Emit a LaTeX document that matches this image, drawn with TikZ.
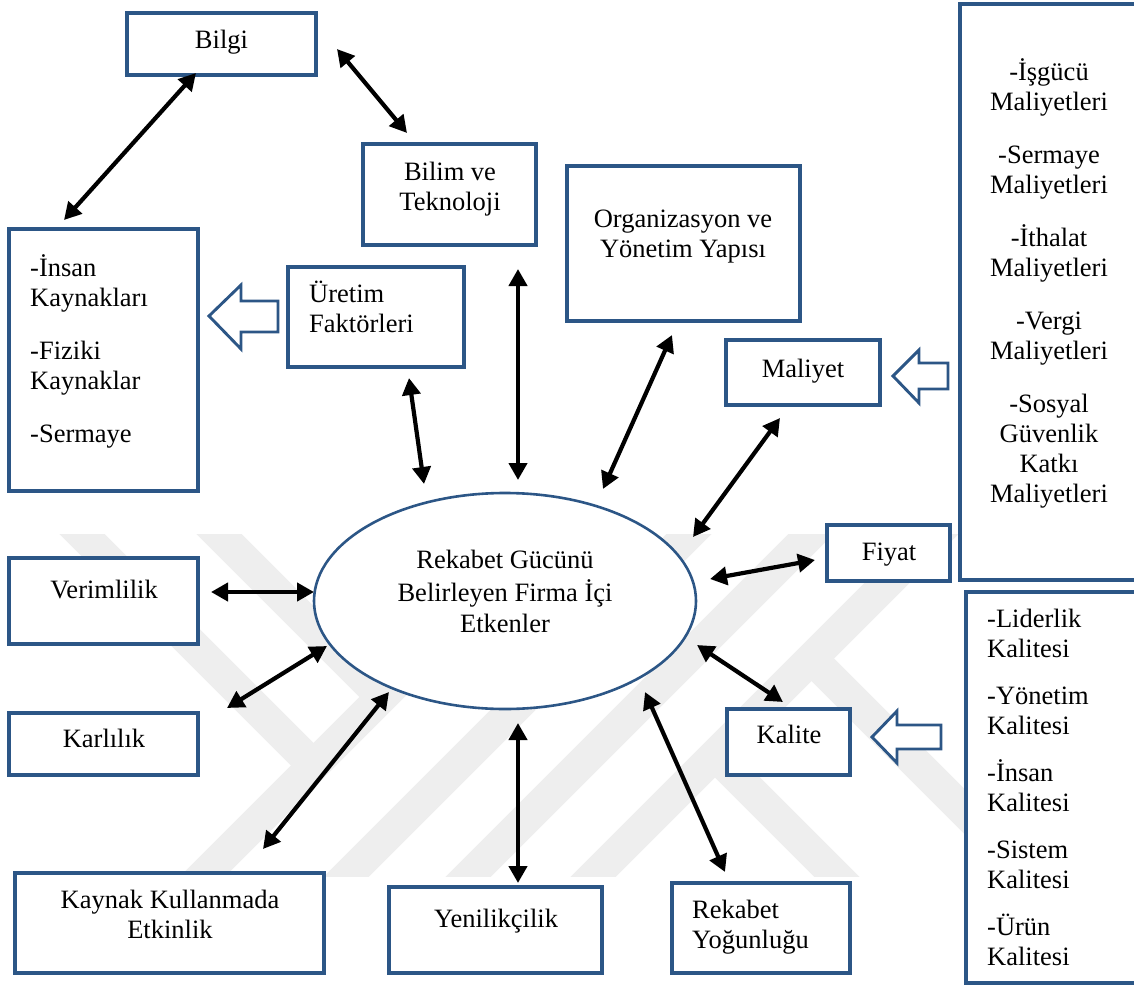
\documentclass[tikz,border=0pt]{standalone}
\usepackage{fontspec}
\setmainfont{Liberation Serif}
\usetikzlibrary{arrows.meta,shapes.geometric}
\definecolor{edgeblue}{RGB}{44,86,134}
\definecolor{wmgray}{RGB}{238,238,238}
\tikzset{
  box/.style={draw=edgeblue, line width=3.1pt, fill=white, rectangle, inner sep=0pt},
  txt/.style={font=\fontsize{26.5}{30}\selectfont, inner sep=0pt, align=center},
  ltxt/.style={font=\fontsize{26.5}{30}\selectfont, inner sep=0pt, align=left},
  link/.style={line width=4.2pt, {Triangle[length=17pt,width=18pt]}-{Triangle[length=17pt,width=18pt]}},
  hollow/.style={draw=edgeblue, line width=2.9pt, fill=white, line join=miter},
  band/.style={draw=wmgray, line width=32pt, line cap=butt, line join=miter},
}
\begin{document}
\begin{tikzpicture}[x=1pt, y=-1pt]
\useasboundingbox (0,0) rectangle (1134,987);

% faint background emblem: four rising stripes, two falling stripes meeting
% the outer left one and two falling stripes leaving the outer right one
\begin{scope}
  \clip (0,534) rectangle (1134,876);
  \draw[band] (150,929) -- (596,483);   % rising C
  \draw[band] (294,929) -- (740,483);   % rising D
  \draw[band] (416,929) -- (862,483);   % rising E
  \draw[band] (541,929) -- (987,483);   % rising F
  \draw[band] (31,483) -- (314,766);    % falling A, ends on C
  \draw[band] (168,483) -- (382,697);   % falling B, ends on C
  \draw[band] (811,658) -- (1082,929);  % falling G, leaves F
  \draw[band] (715,755) -- (889,929);   % falling H, leaves F
\end{scope}

% boxes
\node[box, minimum width=189pt, minimum height=62pt]  (bilgi)   at (221.5,44)   {};
\node[box, minimum width=173pt, minimum height=101pt] (bilim)   at (449.5,194.5) {};
\node[box, minimum width=233pt, minimum height=155pt] (org)     at (683.5,243.5) {};
\node[box, minimum width=180pt, minimum height=576pt] (costs)   at (1050,292)   {};
\node[box, minimum width=189pt, minimum height=262pt] (insan)   at (103.5,360)  {};
\node[box, minimum width=176pt, minimum height=100pt] (uretim)  at (376,317)    {};
\node[box, minimum width=154pt, minimum height=65pt]  (maliyet) at (803,372.5)  {};
\node[box, minimum width=123pt, minimum height=56pt]  (fiyat)   at (888.5,553)  {};
\node[box, minimum width=189pt, minimum height=86pt]  (verim)   at (103.5,601)  {};
\node[box, minimum width=189pt, minimum height=62pt]  (karl)    at (103.5,744)  {};
\node[box, minimum width=309pt, minimum height=100pt] (kaynak)  at (169.5,923)  {};
\node[box, minimum width=213pt, minimum height=86pt]  (yenilik) at (495.5,930)  {};
\node[box, minimum width=178pt, minimum height=90pt]  (rekabet) at (761,928)    {};
\node[box, minimum width=123pt, minimum height=66pt]  (kalite)  at (788.5,742)  {};
\node[box, minimum width=174pt, minimum height=391pt] (quality) at (1053,787.5) {};
\node[ellipse, draw=edgeblue, line width=2.6pt, fill=white, inner sep=0pt,
      minimum width=382pt, minimum height=216pt] (core) at (505,601) {};

% texts
\node[txt, anchor=base] (t-bilgi) at (221.5,49) {Bilgi};
\node[txt, anchor=north] (t-bilim) at (450,159) {\strut Bilim ve\\Teknoloji};
\node[txt, anchor=north] (t-org) at (683,206) {\strut Organizasyon ve\\Yönetim Yapısı};
\node[txt, anchor=north] (t-costs) at (1049,58)
  {\strut -İşgücü\\Maliyetleri\\[23pt]-Sermaye\\Maliyetleri\\[23pt]-İthalat\\Maliyetleri\\[23pt]-Vergi\\Maliyetleri\\[23pt]-Sosyal\\Güvenlik\\Katkı\\Maliyetleri};
\node[ltxt, anchor=north west] (t-insan) at (30,254)
  {\strut -İnsan\\Kaynakları\\[23pt]-Fiziki\\Kaynaklar\\[23pt]-Sermaye};
\node[ltxt, anchor=north west] (t-uretim) at (309,281) {\strut Üretim\\Faktörleri};
\node[txt, anchor=base] (t-maliyet) at (803,377) {Maliyet};
\node[txt, anchor=base] (t-fiyat) at (889,560) {Fiyat};
\node[txt, anchor=north] (t-core) at (505,547) {\strut Rekabet Gücünü\\[1pt]Belirleyen Firma İçi\\[1pt]Etkenler};
\node[txt, anchor=base] (t-verim) at (104,598) {Verimlilik};
\node[txt, anchor=base] (t-karl) at (104,747) {Karlılık};
\node[txt, anchor=north] (t-kaynak) at (170,887) {\strut Kaynak Kullanmada\\Etkinlik};
\node[txt, anchor=base] (t-yenilik) at (496,927) {Yenilikçilik};
\node[ltxt, anchor=north west] (t-rekabet) at (692,897) {\strut Rekabet\\Yoğunluğu};
\node[txt, anchor=base] (t-kalite) at (789,743) {Kalite};
\node[ltxt, anchor=north west] (t-quality) at (987,606)
  {\strut -Liderlik\\Kalitesi\\[17pt]-Yönetim\\Kalitesi\\[17pt]-İnsan\\Kalitesi\\[17pt]-Sistem\\Kalitesi\\[17pt]-Ürün\\Kalitesi};

% hollow arrows feeding the three boxes
\draw[hollow] (209,316) -- (241,285) -- (241,301) -- (278,301) -- (278,332) -- (241,332) -- (241,349) -- cycle;
\draw[hollow] (893,376) -- (919,350) -- (919,363) -- (948,363) -- (948,389) -- (919,389) -- (919,403) -- cycle;
\draw[hollow] (872,737) -- (897,711) -- (897,725) -- (941,725) -- (941,749) -- (897,749) -- (897,763) -- cycle;

% connector ends
\coordinate (bilgi-a) at (196,73);   \coordinate (insan-a) at (64,220);
\coordinate (bilgi-b) at (337,49);   \coordinate (bilim-a) at (407,133);
\coordinate (bilim-b) at (518,269);  \coordinate (core-1) at (518,480);
\coordinate (uretim-a) at (409,378); \coordinate (core-2) at (424,484);
\coordinate (org-a) at (672,335);    \coordinate (core-3) at (603,489);
\coordinate (maliyet-a) at (780,418);\coordinate (core-4) at (693,537);
\coordinate (fiyat-a) at (815,560);  \coordinate (core-5) at (710,579);
\coordinate (kalite-a) at (783,702); \coordinate (core-6) at (697,645);
\coordinate (rekabet-a) at (725,872);\coordinate (core-7) at (645,692);
\coordinate (yenilik-a) at (518,883);\coordinate (core-8) at (518,723);
\coordinate (kaynak-a) at (263,849); \coordinate (core-9) at (389,692);
\coordinate (karl-a) at (227,708);   \coordinate (core-10) at (327,646);
\coordinate (verim-a) at (211,592);  \coordinate (core-11) at (314,592);

% two-way links
\draw[link] (bilgi-a) -- (insan-a);
\draw[link] (bilgi-b) -- (bilim-a);
\draw[link] (bilim-b) -- (core-1);
\draw[link] (uretim-a) -- (core-2);
\draw[link] (org-a) -- (core-3);
\draw[link] (maliyet-a) -- (core-4);
\draw[link] (fiyat-a) -- (core-5);
\draw[link] (kalite-a) -- (core-6);
\draw[link] (rekabet-a) -- (core-7);
\draw[link] (yenilik-a) -- (core-8);
\draw[link] (kaynak-a) -- (core-9);
\draw[link] (karl-a) -- (core-10);
\draw[link] (verim-a) -- (core-11);
\end{tikzpicture}
\end{document}
